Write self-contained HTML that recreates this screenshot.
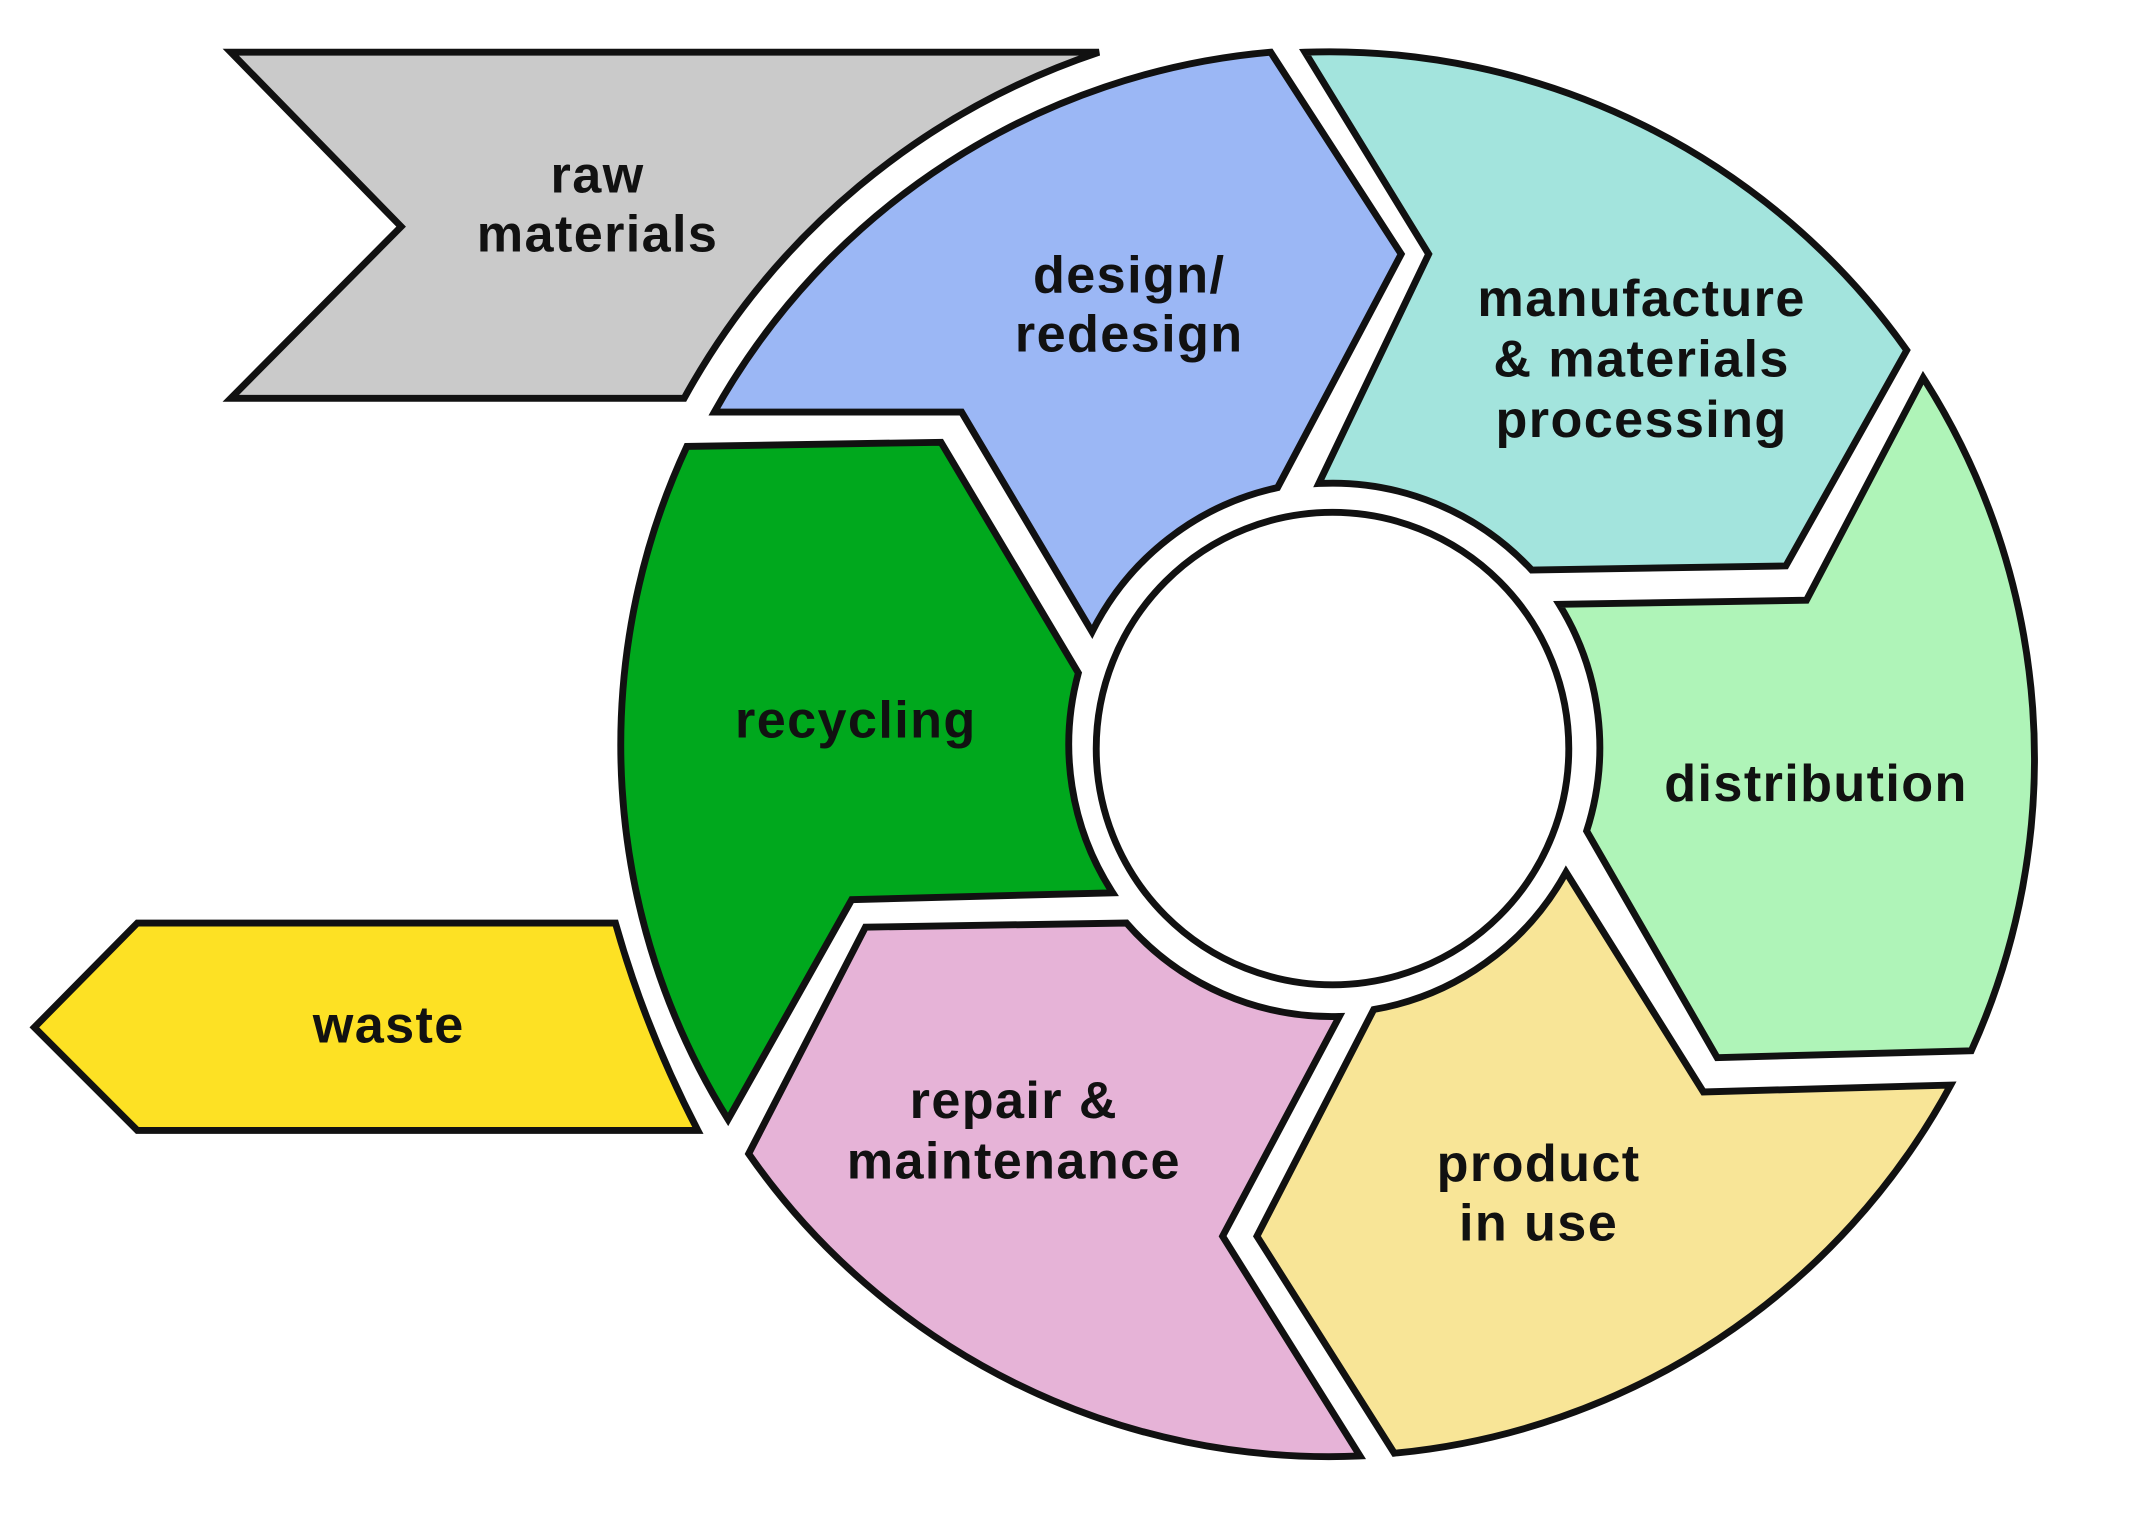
<!DOCTYPE html>
<html><head><meta charset="utf-8"><style>
html,body{margin:0;padding:0;background:#fff;}
svg{display:block}
text{font-family:"Liberation Sans",sans-serif;font-weight:bold;font-size:38px;fill:#111;text-anchor:middle;letter-spacing:1px}
</style></head><body>
<svg width="2143" height="1526" viewBox="0 0 1560 1111" preserveAspectRatio="none" xmlns="http://www.w3.org/2000/svg">
<g stroke="#111" stroke-width="5" stroke-linejoin="miter">
<!-- raw materials -->
<path d="M168,38 L800,38 A540,540 0 0 0 498,290 L168,290 L292,165 Z" fill="#cacaca"/>
<!-- waste -->
<path d="M100,672 L448,672 Q470,750 508,823 L100,823 L25,748 Z" fill="#fde124"/>
<!-- design -->
<path d="M520,300 A515,515 0 0 1 925,38 L1020,185 L930,355 A198,198 0 0 0 795,460 L700,300 Z" fill="#9bb7f5"/>
<!-- manufacture -->
<path d="M950,38 A515,515 0 0 1 1388,255 L1300,412 L1115,415 A198,198 0 0 0 960,352 L1040,185 Z" fill="#a3e4dd"/>
<!-- distribution -->
<path d="M1400,275 A515,515 0 0 1 1435,765 L1250,770 L1155,605 A198,198 0 0 0 1135,440 L1315,437 Z" fill="#aff4b8"/>
<!-- product in use -->
<path d="M1420,790 A515,515 0 0 1 1015,1058 L915,900 L1000,735 A198,198 0 0 0 1140,635 L1240,795 Z" fill="#f8e597"/>
<!-- repair -->
<path d="M990,1060 A515,515 0 0 1 545,840 L630,675 L820,672 A198,198 0 0 0 975,740 L890,900 Z" fill="#e6b3d7"/>
<!-- recycling -->
<path d="M530,815 A515,515 0 0 1 500,325 L685,322 L785,490 A198,198 0 0 0 810,650 L620,655 Z" fill="#00a81d"/>
<!-- center -->
<circle cx="970" cy="545" r="172" fill="#fff"/>
</g>
<text x="435" y="140">raw</text>
<text x="435" y="183">materials</text>
<text x="822" y="213">design/</text>
<text x="822" y="256">redesign</text>
<text x="1195" y="230">manufacture</text>
<text x="1195" y="274">&amp; materials</text>
<text x="1195" y="318">processing</text>
<text x="623" y="537">recycling</text>
<text x="1322" y="583">distribution</text>
<text x="283" y="759">waste</text>
<text x="738" y="814">repair &amp;</text>
<text x="738" y="858">maintenance</text>
<text x="1120" y="860">product</text>
<text x="1120" y="903">in use</text>
</svg>
</body></html>
